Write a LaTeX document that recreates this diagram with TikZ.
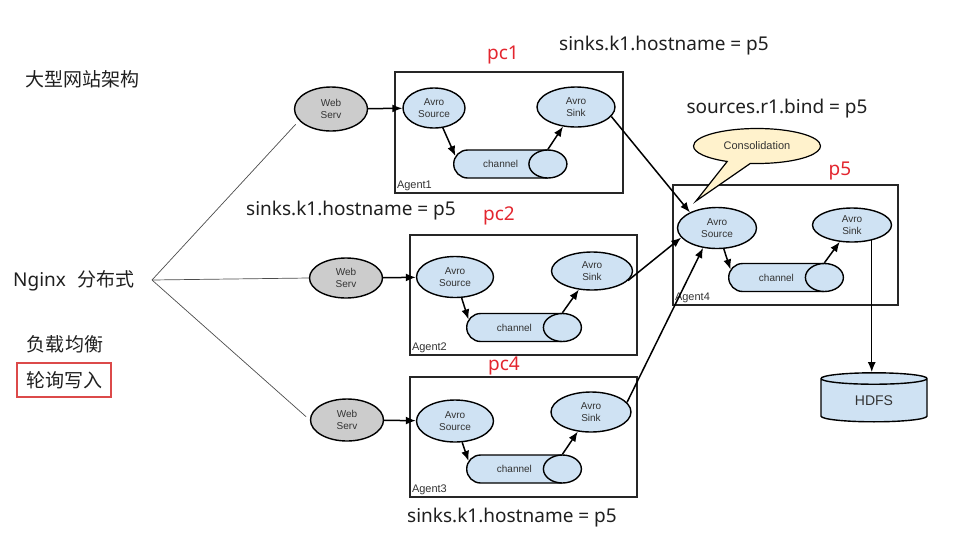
\documentclass[tikz,border=0pt]{standalone}
\usepackage{fontspec}
\setmainfont{Noto Sans}
\newfontfamily\cjkfont{Noto Sans CJK SC}
\newfontfamily\arialfont{Liberation Sans}
\usetikzlibrary{arrows.meta,shapes.geometric,shapes.misc,shapes.callouts}
\definecolor{avroblue}{HTML}{CFE2F3}
\definecolor{srvgray}{HTML}{CCCCCC}
\definecolor{callyellow}{HTML}{FFF2CC}
\definecolor{pcred}{HTML}{E3262F}
\definecolor{boxred}{HTML}{DC4A4A}
\definecolor{inktext}{HTML}{333333}

\begin{document}
\begin{tikzpicture}[x=1pt,y=-1pt,
  big/.style={font=\fontsize{19}{21}\selectfont, text=black!88, inner sep=0pt},
  bigcjk/.style={big, font=\cjkfont\fontsize{19}{21}\selectfont},
  redlbl/.style={big, text=pcred},
  srv/.style={ellipse, draw=black, line width=1.4pt, fill=srvgray, inner sep=0pt,
    align=center, text=inktext, font=\arialfont\fontsize{10}{12}\selectfont},
  avro/.style={srv, fill=avroblue},
  chan/.style={rounded rectangle, rounded rectangle right arc=none, draw=black,
    line width=1.4pt, fill=avroblue, minimum height=28, inner sep=0pt, anchor=west,
    text=inktext, font=\arialfont\fontsize{10}{12}\selectfont},
  chanend/.style={draw=black, line width=1.4pt, fill=avroblue},
  agent/.style={draw=black!85, line width=1.4pt, inner sep=0pt},
  agentlbl/.style={anchor=south west, inner sep=2.5pt, text=inktext,
    font=\arialfont\fontsize{11}{13}\selectfont},
  arr/.style={-{Latex[length=10pt,width=8pt]}, line width=1.5pt, draw=black},
  fan/.style={draw=black!70, line width=0.7pt}]
\useasboundingbox (0,0) rectangle (979,539);

% left side texts
\node[bigcjk] (title) at (82,79) {大型网站架构};
\node[big, anchor=west] (nginx) at (13,281) {Nginx\hspace{11pt}{\cjkfont 分布式}};
\coordinate (hub) at (152,280);
\node[bigcjk] (lb) at (65,344) {负载均衡};
\node[bigcjk, draw=boxred, line width=1.3pt, minimum width=94, minimum height=34] (poll) at (64,380) {轮询写入};

% config texts
\node[big] (cfg1) at (664,46) {sinks.k1.hostname = p5};
\node[big] (cfg2) at (351,211) {sinks.k1.hostname = p5};
\node[big] (cfg3) at (512,518) {sinks.k1.hostname = p5};
\node[big] (cfg4) at (777,109) {sources.r1.bind = p5};
\node[redlbl] (pc1) at (503,55) {pc1};
\node[redlbl] (pc2) at (499,216) {pc2};
\node[redlbl] (pc4) at (504,366) {pc4};
\node[redlbl] (p5) at (840,171) {p5};

% web servers
\node[srv, minimum width=73, minimum height=44] (ws1) at (331,109) {Web\\Serv};
\node[srv, minimum width=73, minimum height=40] (ws2) at (346,278) {Web\\Serv};
\node[srv, minimum width=73, minimum height=42] (ws3) at (347,420) {Web\\Serv};

% agents
\node[agent, minimum width=228, minimum height=121] (ag1) at (509,132.5) {};
\node[agentlbl] (ag1l) at (ag1.south west) {Agent1};
\node[agent, minimum width=227, minimum height=120] (ag2) at (523.5,295) {};
\node[agentlbl] (ag2l) at (ag2.south west) {Agent2};
\node[agent, minimum width=227, minimum height=120] (ag3) at (523.5,437) {};
\node[agentlbl] (ag3l) at (ag3.south west) {Agent3};
\node[agent, minimum width=225, minimum height=120] (ag4) at (785.5,245) {};
\node[agentlbl] (ag4l) at (ag4.south west) {Agent4};

\node[avro, minimum width=62, minimum height=40] (src1) at (434,108) {Avro\\Source};
\node[avro, minimum width=78, minimum height=40] (snk1) at (576,107) {Avro\\Sink};
\node[chan, minimum width=93.5] (ch1) at (453,164) {channel};
\draw[chanend] (ch1.east) ellipse [x radius=19pt, y radius=14pt];

\node[avro, minimum width=77, minimum height=41] (src2) at (455,277) {Avro\\Source};
\node[avro, minimum width=81, minimum height=38] (snk2) at (592,271) {Avro\\Sink};
\node[chan, minimum width=95] (ch2) at (466,327.5) {channel};
\draw[chanend] (ch2.east) ellipse [x radius=19pt, y radius=14pt];

\node[avro, minimum width=77, minimum height=42] (src3) at (455,421) {Avro\\Source};
\node[avro, minimum width=80, minimum height=40] (snk3) at (591,412) {Avro\\Sink};
\node[chan, minimum width=95] (ch3) at (466,469) {channel};
\draw[chanend] (ch3.east) ellipse [x radius=19pt, y radius=14pt];

\node[avro, minimum width=79, minimum height=41] (src4) at (717,228) {Avro\\Source};
\node[avro, minimum width=79, minimum height=34] (snk4) at (852,225) {Avro\\Sink};
\node[chan, minimum width=95] (ch4) at (728,277.5) {channel};
\draw[chanend] (ch4.east) ellipse [x radius=19pt, y radius=14pt];

\node[ellipse callout, draw=black, line width=1.2pt, fill=callyellow, inner sep=0pt,
  minimum width=127, minimum height=35, callout pointer arc=22,
  callout absolute pointer={(696,201)}, text=inktext,
  font=\arialfont\fontsize{11}{13}\selectfont] (cons) at (757,146) {Consolidation};

\node[cylinder, shape border rotate=90, aspect=0.3, draw=black, line width=1.4pt,
  fill=avroblue, minimum width=106, minimum height=49, inner sep=0pt, text=inktext,
  font=\arialfont\fontsize{14}{16}\selectfont] (hdfs) at (874,400.5) {HDFS};

% nginx fan out
\draw[fan, shorten >=5pt] (hub) -- (ws1.200);
\draw[fan] (hub) -- (ws2.west);
\draw[fan, shorten >=5pt] (hub) -- (ws3.west);

% flows
\draw[arr] (ws1) -- (src1);
\draw[arr] (src1) -- (ch1.170);
\draw[arr] (ch1.north east) -- (snk1);
\draw[arr] (ws2) -- (src2);
\draw[arr] (src2) -- (ch2.170);
\draw[arr] (ch2.north east) -- (snk2);
\draw[arr] (ws3) -- (src3);
\draw[arr] (src3) -- (ch3.170);
\draw[arr] (ch3.north east) -- (snk3);
\draw[arr] (src4) -- (ch4.170);
\draw[arr] (ch4.north east) -- (snk4);

\draw[arr] (snk1.-15) -- (src4.150);
\draw[arr] (snk2.-15) -- (src4.195);
\draw[arr] (snk3.15) -- (src4.235);
\draw[arr] (snk4.-38) -- (snk4.-38 |- hdfs.north);
\end{tikzpicture}
\end{document}
